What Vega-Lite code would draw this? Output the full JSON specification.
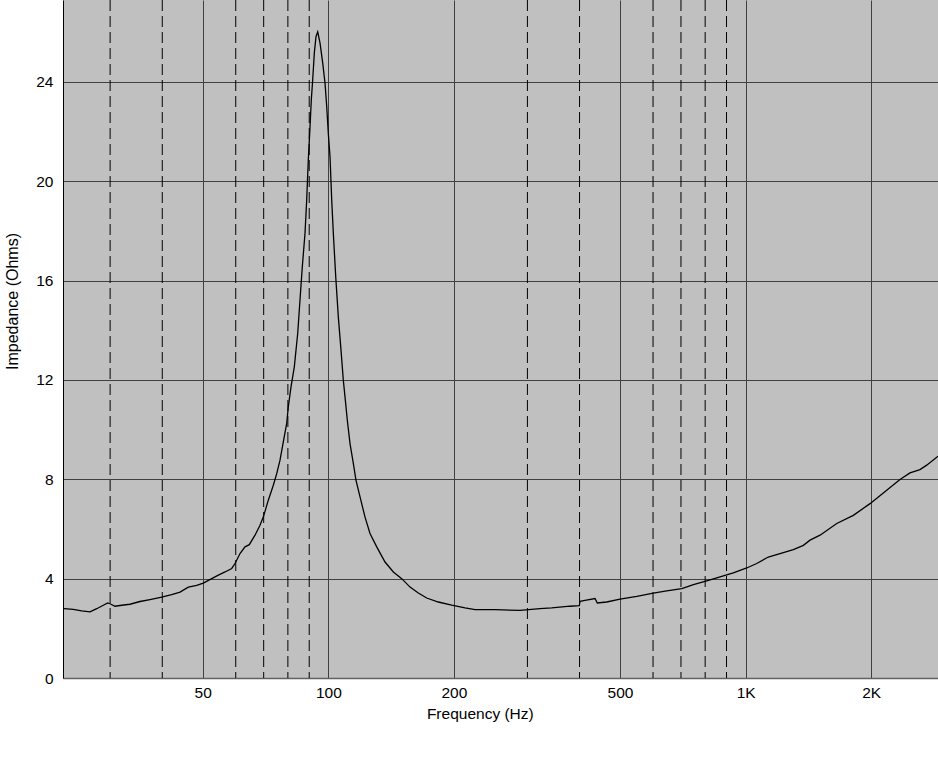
{
  "$schema": "https://vega.github.io/schema/vega-lite/v6.json",
  "width": 875,
  "height": 678,
  "autosize": {"type": "none"},
  "padding": {"left": 63, "top": 0, "right": 0, "bottom": 94},
  "background": "white",
  "config": {
    "view": {"fill": "#c0c0c0", "stroke": null},
    "font": "Liberation Sans"
  },
  "datasets": {
    "curve": [
      {"f": 23.26, "z": 2.79}, {"f": 24.48, "z": 2.76}, {"f": 25.64, "z": 2.70}, {"f": 26.85, "z": 2.66},
      {"f": 27.86, "z": 2.79}, {"f": 28.89, "z": 2.93}, {"f": 29.60, "z": 3.02}, {"f": 29.98, "z": 2.99},
      {"f": 30.82, "z": 2.89}, {"f": 31.98, "z": 2.93}, {"f": 33.47, "z": 2.97}, {"f": 35.37, "z": 3.08},
      {"f": 37.38, "z": 3.16}, {"f": 39.88, "z": 3.26}, {"f": 42.14, "z": 3.36}, {"f": 44.12, "z": 3.46},
      {"f": 46.18, "z": 3.66}, {"f": 48.38, "z": 3.73}, {"f": 50.17, "z": 3.82}, {"f": 52.55, "z": 4.00},
      {"f": 54.50, "z": 4.14}, {"f": 56.55, "z": 4.27}, {"f": 58.68, "z": 4.41}, {"f": 59.76, "z": 4.61},
      {"f": 61.43, "z": 5.01}, {"f": 63.15, "z": 5.28}, {"f": 64.66, "z": 5.37}, {"f": 66.73, "z": 5.75},
      {"f": 68.59, "z": 6.15}, {"f": 69.85, "z": 6.48}, {"f": 71.81, "z": 7.16}, {"f": 73.82, "z": 7.76},
      {"f": 75.22, "z": 8.23}, {"f": 76.60, "z": 8.77}, {"f": 78.01, "z": 9.51}, {"f": 79.48, "z": 10.25},
      {"f": 80.19, "z": 10.92}, {"f": 81.39, "z": 11.72}, {"f": 82.89, "z": 12.53}, {"f": 84.46, "z": 13.88},
      {"f": 85.53, "z": 15.22}, {"f": 86.63, "z": 16.56}, {"f": 87.93, "z": 17.91}, {"f": 88.75, "z": 19.25},
      {"f": 89.54, "z": 20.86}, {"f": 90.39, "z": 22.20}, {"f": 91.04, "z": 23.28}, {"f": 91.74, "z": 24.08},
      {"f": 92.56, "z": 25.16}, {"f": 93.44, "z": 25.83}, {"f": 94.32, "z": 26.02}, {"f": 95.53, "z": 25.56},
      {"f": 96.96, "z": 24.76}, {"f": 98.20, "z": 23.95}, {"f": 99.12, "z": 23.01}, {"f": 100.0, "z": 21.93},
      {"f": 100.94, "z": 20.99}, {"f": 101.89, "z": 19.25}, {"f": 102.80, "z": 17.91}, {"f": 104.17, "z": 16.16},
      {"f": 105.67, "z": 14.54}, {"f": 107.25, "z": 13.20}, {"f": 108.63, "z": 11.99}, {"f": 109.65, "z": 11.32},
      {"f": 111.05, "z": 10.38}, {"f": 112.72, "z": 9.44}, {"f": 114.79, "z": 8.64}, {"f": 116.51, "z": 7.96},
      {"f": 119.12, "z": 7.29}, {"f": 122.45, "z": 6.48}, {"f": 125.87, "z": 5.82}, {"f": 130.62, "z": 5.28},
      {"f": 136.74, "z": 4.67}, {"f": 143.16, "z": 4.27}, {"f": 149.94, "z": 4.00}, {"f": 156.97, "z": 3.66},
      {"f": 164.32, "z": 3.42}, {"f": 172.11, "z": 3.22}, {"f": 183.49, "z": 3.06}, {"f": 197.56, "z": 2.93},
      {"f": 212.64, "z": 2.82}, {"f": 224.70, "z": 2.75}, {"f": 250.88, "z": 2.75}, {"f": 288.01, "z": 2.72},
      {"f": 321.55, "z": 2.79}, {"f": 343.00, "z": 2.82}, {"f": 379.47, "z": 2.89}, {"f": 399.47, "z": 2.91},
      {"f": 401.01, "z": 3.09}, {"f": 412.23, "z": 3.13}, {"f": 435.62, "z": 3.20}, {"f": 441.19, "z": 3.02},
      {"f": 464.68, "z": 3.06}, {"f": 500.17, "z": 3.18}, {"f": 548.47, "z": 3.29}, {"f": 600.88, "z": 3.42},
      {"f": 647.07, "z": 3.51}, {"f": 703.26, "z": 3.60}, {"f": 749.80, "z": 3.76}, {"f": 806.96, "z": 3.91},
      {"f": 868.41, "z": 4.07}, {"f": 934.46, "z": 4.23}, {"f": 1006.1, "z": 4.43}, {"f": 1063.1, "z": 4.61},
      {"f": 1133.4, "z": 4.87}, {"f": 1208.9, "z": 5.01}, {"f": 1301.4, "z": 5.17}, {"f": 1375.3, "z": 5.34},
      {"f": 1427.0, "z": 5.55}, {"f": 1507.9, "z": 5.75}, {"f": 1653.4, "z": 6.22}, {"f": 1811.8, "z": 6.55},
      {"f": 1986.7, "z": 7.02}, {"f": 2178.4, "z": 7.56}, {"f": 2344.3, "z": 7.99}, {"f": 2477.1, "z": 8.26},
      {"f": 2617.5, "z": 8.39}, {"f": 2716.4, "z": 8.57}, {"f": 2891.2, "z": 8.93}
    ],
    "minor": [
      {"f": 30}, {"f": 40}, {"f": 60}, {"f": 70}, {"f": 80}, {"f": 90},
      {"f": 300}, {"f": 400}, {"f": 600}, {"f": 700}, {"f": 800}, {"f": 900}
    ]
  },
  "encoding": {
    "x": {
      "field": "f",
      "type": "quantitative",
      "scale": {"type": "log", "domain": [23.13, 2891], "nice": false, "zero": false},
      "axis": {
        "values": [50, 100, 200, 500, 1000, 2000],
        "labelExpr": "datum.value >= 1000 ? format(datum.value / 1000, 'd') + 'K' : format(datum.value, 'd')",
        "ticks": false,
        "labelFont": "Liberation Sans",
        "labelFontSize": 15.5,
        "labelColor": "black",
        "labelBaseline": "alphabetic",
        "labelPadding": 19,
        "labelFlush": false,
        "labelOverlap": false,
        "grid": true,
        "gridColor": "#404040",
        "gridWidth": 1,
        "gridOpacity": 1,
        "domainColor": "#606060",
        "domainWidth": 1.5,
        "title": "Frequency (Hz)",
        "titleFont": "Liberation Sans",
        "titleFontSize": 15.5,
        "titleFontWeight": "normal",
        "titleColor": "black",
        "titleBaseline": "alphabetic",
        "titleAlign": "center",
        "titleAnchor": "start",
        "titleX": 416.8,
        "titleY": 40.5
      }
    }
  },
  "layer": [
    {
      "data": {"name": "minor"},
      "mark": {"type": "rule", "color": "black", "strokeWidth": 1, "strokeDash": [11, 5]}
    },
    {
      "data": {"name": "curve"},
      "mark": {"type": "line", "color": "black", "strokeWidth": 1.3, "clip": true, "interpolate": "linear"},
      "encoding": {
        "y": {
          "field": "z",
          "type": "quantitative",
          "scale": {"domain": [0, 27.3], "nice": false, "zero": true},
          "axis": {
            "values": [0, 4, 8, 12, 16, 20, 24],
            "ticks": false,
            "labelFont": "Liberation Sans",
            "labelFontSize": 15.5,
            "labelColor": "black",
            "labelPadding": 10,
            "labelFlush": false,
            "labelOverlap": false,
            "grid": true,
            "gridColor": "#404040",
            "gridWidth": 1,
            "gridOpacity": 1,
            "domainColor": "black",
            "domainWidth": 1,
            "title": "Impedance (Ohms)",
            "titleFont": "Liberation Sans",
            "titleFontSize": 16,
            "titleFontWeight": "normal",
            "titleColor": "black",
            "titleAngle": -90,
            "titleBaseline": "middle",
            "titleAlign": "center",
            "titleAnchor": "start",
            "titleX": -50.7,
            "titleY": 301
          }
        }
      }
    }
  ]
}
